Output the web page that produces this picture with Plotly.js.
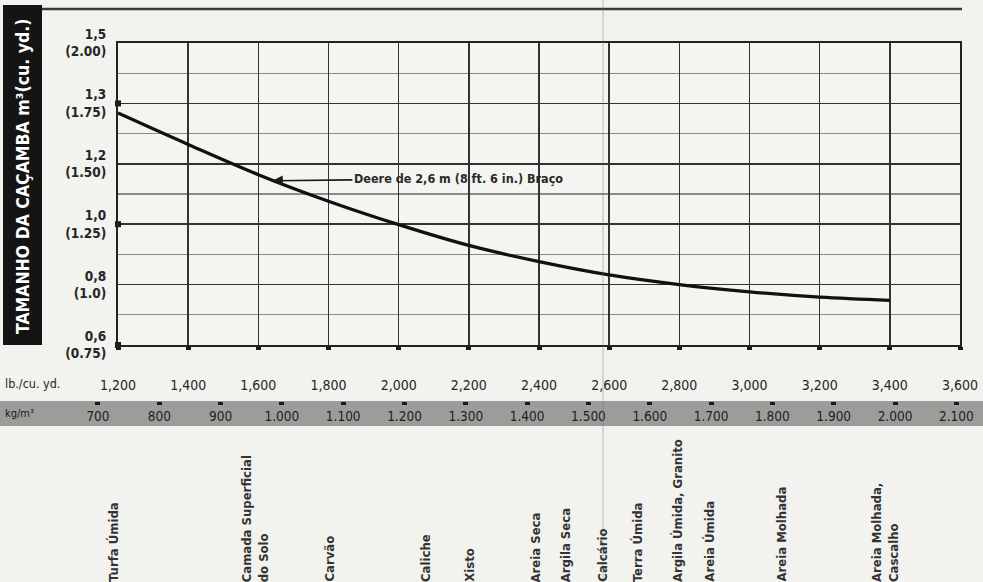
<!DOCTYPE html>
<html><head><meta charset="utf-8">
<script src="https://cdn.plot.ly/plotly-3.0.1.min.js"></script>
<style>html,body{margin:0;padding:0;background:#f2f2ef;} #chart{width:983px;height:582px;}</style>
</head><body><div id="chart"></div>
<script>
// ---------- DATA ----------
const lbTicks = [1200,1400,1600,1800,2000,2200,2400,2600,2800,3000,3200,3400,3600];
const lbTickText = ['1,200','1,400','1,600','1,800','2,000','2,200','2,400','2,600','2,800','3,000','3,200','3,400','3,600'];
const kgTicks = [700,800,900,1000,1100,1200,1300,1400,1500,1600,1700,1800,1900,2000,2100];
const kgTickText = ['700','800','900','1.000','1.100','1.200','1.300','1.400','1.500','1.600','1.700','1.800','1.900','2.000','2.100'];
const yTicks = [2.00,1.75,1.50,1.25,1.00,0.75];
const yTickText = ['1,5<br>(2.00)','1,3<br>(1.75)','1,2<br>(1.50)','1,0<br>(1.25)','0,8<br>(1.0)','0,6<br>(0.75)'];
const yDots = [1.75,1.25,0.75];
const curveLb = [1200,1400,1600,1800,2000,2200,2400,2600,2800,3000,3200,3400];
const curveYd = [1.71,1.58,1.455,1.345,1.248,1.162,1.095,1.04,1.0,0.97,0.948,0.935];
const materials = ['Turfa Úmida','Camada Superficial<br>do Solo','Carvão','Caliche','Xisto','Areia Seca','Argila Seca','Calcário','Terra Úmida','Argila Úmida, Granito','Areia Úmida','Areia Molhada','Areia Molhada,<br>Cascalho'];
const materialLb = [1200,1590,1800,2075,2200,2390,2475,2580,2680,2795,2885,3090,3385];
const curveLabel = 'Deere de 2,6 m (8 ft. 6 in.) Braço';

// ---------- LAYOUT GEOMETRY ----------
const L = 60, R = 23, T = 43, PB = 401, FW = 983, FH = 582;
const W = FW - L - R, H = PB - T;
const px = p => (p - L) / W;
const py = p => (PB - p) / H;
const COND = 'DejaVu Sans Condensed, DejaVu Sans, sans-serif';
const ink = '#262626';

const traces = [
  {x: curveLb, y: curveYd, type: 'scatter', mode: 'lines', line: {shape: 'spline', color: '#111', width: 3.3}, hoverinfo: 'skip'},
  {x: yDots.map(() => lbTicks[0]), y: yDots, type: 'scatter', mode: 'markers', marker: {symbol: 'square', size: 6, color: '#1a1a1a'}, cliponaxis: false, hoverinfo: 'skip'},
  {x: [], y: [], xaxis: 'x2', yaxis: 'y2', type: 'scatter', mode: 'markers'}
];

const annotations = [
  {x: 1640, y: 1.43, xref: 'x', yref: 'y', text: curveLabel, showarrow: true, ax: 186, ay: -2,
   arrowhead: 2, arrowsize: 1.3, arrowwidth: 1.6, arrowcolor: '#1a1a1a',
   font: {family: COND, size: 12.5, color: '#2a2a2a', weight: 'bold'}},
  {x: px(23), y: py(177), xref: 'paper', yref: 'paper', xanchor: 'center', yanchor: 'middle', text: 'TAMANHO DA CAÇAMBA m³(cu. yd.)', textangle: -90, showarrow: false,
   font: {family: COND, size: 17.5, color: '#ffffff', weight: 'bold'}},
  {x: px(3), y: py(383), xref: 'paper', yref: 'paper', xanchor: 'left', yanchor: 'middle', text: 'lb./cu. yd.', showarrow: false,
   font: {family: COND, size: 12.5, color: ink}},
  {x: px(3), y: py(413), xref: 'paper', yref: 'paper', xanchor: 'left', yanchor: 'middle', text: 'kg/m³', showarrow: false,
   font: {family: COND, size: 11, color: '#1a1a1a'}}
];
materials.forEach((m, i) => {
  annotations.push({x: materialLb[i], y: py(584), xref: 'x', yref: 'paper', yanchor: 'bottom', xanchor: 'center',
    xshift: i === 0 ? -5 : 0,
    text: m, textangle: -90, align: 'left', showarrow: false,
    font: {family: COND, size: 13, color: '#333', weight: 'bold'}});
});

const shapes = [
  {type: 'rect', xref: 'paper', yref: 'paper', x0: px(0), x1: px(FW), y0: py(426), y1: py(401), fillcolor: '#9c9c9a', line: {width: 0}, layer: 'below'},
  {type: 'rect', xref: 'paper', yref: 'paper', x0: px(3), x1: px(42), y0: py(345), y1: py(5), fillcolor: '#141414', line: {width: 0}, layer: 'below'},
  {type: 'line', xref: 'paper', yref: 'paper', x0: px(42), x1: px(962), y0: py(9), y1: py(9), line: {color: '#3a3a3a', width: 2.5}},
  {type: 'line', xref: 'paper', yref: 'paper', x0: px(603), x1: px(603), y0: py(0), y1: py(FH), line: {color: 'rgba(110,110,110,0.45)', width: 1}}
];

const layout = {
  width: FW, height: FH,
  margin: {l: L, r: R, t: T, b: FH - PB, pad: 0},
  paper_bgcolor: '#f2f2ef', plot_bgcolor: '#f4f4f1',
  showlegend: false,
  font: {family: COND, color: ink},
  xaxis: {domain: [px(118), 1], range: [1200, 3600], anchor: 'y', tickmode: 'array', tickvals: lbTicks, ticktext: lbTickText,
    ticks: 'outside', ticklen: 3, tickwidth: 5, tickcolor: '#1a1a1a', ticklabelstandoff: 23,
    showgrid: true, gridcolor: '#333', gridwidth: 1.5, zeroline: false,
    showline: true, linecolor: '#222', linewidth: 2, mirror: true,
    tickfont: {family: COND, size: 14, color: ink}},
  yaxis: {domain: [py(345), 1], range: [0.75, 2.0], anchor: 'x', tickmode: 'array', tickvals: yTicks, ticktext: yTickText,
    ticks: '', ticklabelstandoff: 7,
    showgrid: true, gridcolor: '#333', gridwidth: 1.6, zeroline: false,
    minor: {tickmode: 'linear', tick0: 0.75, dtick: 0.125, showgrid: true, gridcolor: '#8a8a8a', gridwidth: 1.3, ticks: ''},
    showline: true, linecolor: '#222', linewidth: 2, mirror: true,
    tickfont: {family: COND, size: 13.5, color: ink, weight: 'bold'}},
  xaxis2: {domain: [px(90), 1], range: [687, 2106], anchor: 'y2', tickmode: 'array', tickvals: kgTicks, ticktext: kgTickText,
    ticks: 'outside', ticklen: 3, tickwidth: 5, tickcolor: '#1a1a1a',
    showgrid: false, zeroline: false, showline: false,
    tickfont: {family: COND, size: 13.5, color: '#1e1e1e'}},
  yaxis2: {domain: [0, 0.002], anchor: 'x2', range: [0, 1], visible: false, showgrid: false, zeroline: false},
  annotations: annotations,
  shapes: shapes
};

Plotly.newPlot('chart', traces, layout, {displayModeBar: false, staticPlot: true});
</script></body></html>
